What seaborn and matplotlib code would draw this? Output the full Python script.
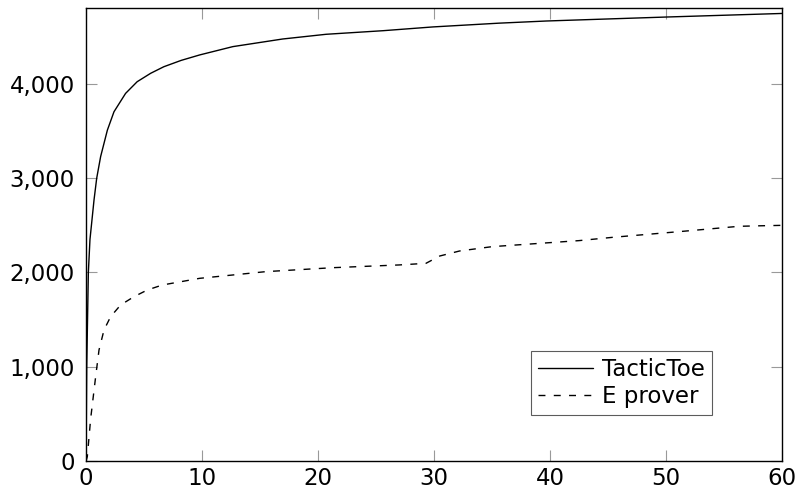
import matplotlib
matplotlib.use("Agg")
import matplotlib.pyplot as plt
import matplotlib.ticker as mticker
import seaborn as sns
import pandas as pd

# time (s) vs. number of problems solved
tt_time = [0, 0.03, 0.06, 0.2, 0.34, 0.69, 0.92, 1.26, 1.84, 2.41, 3.41, 4.41,
           5.57, 6.71, 8.2, 9.8, 12.65, 16.95, 20.7, 25.6, 29.9, 35.6, 39.7, 50.0, 60]
tt_solved = [0, 500, 1000, 2000, 2350, 2770, 3000, 3230, 3510, 3705, 3900, 4024,
             4113, 4183, 4250, 4308, 4396, 4477, 4527, 4565, 4605, 4645, 4668, 4710, 4748]

ep_time = [0, 0.11, 0.4, 0.83, 1.12, 1.55, 2.12, 2.98, 4.13, 5.28, 6.57, 9.8,
           15.5, 21.3, 27.0, 29.3, 30.5, 32.2, 35.0, 42.5, 45.4, 51.1, 56.3, 58, 60]
ep_solved = [0, 46, 450, 895, 1178, 1390, 1531, 1655, 1743, 1814, 1867, 1938,
             2009, 2051, 2080, 2097, 2175, 2228, 2274, 2338, 2373, 2433, 2490, 2495, 2500]

x_ticks = [0, 10, 20, 30, 40, 50, 60]
y_ticks = [0, 1000, 2000, 3000, 4000]

sns.set_style("white")
plt.rcParams["font.family"] = ["DejaVu Sans"]
plt.rcParams["text.color"] = "black"

df_tt = pd.DataFrame({"time": tt_time, "solved": tt_solved})
df_ep = pd.DataFrame({"time": ep_time, "solved": ep_solved})

fig = plt.figure(figsize=(7.98, 4.93), dpi=100)
ax = fig.add_axes([0.1078, 0.0649, 0.8722, 0.9189])

sns.lineplot(data=df_tt, x="time", y="solved", ax=ax, color="black",
             linewidth=1.0, label="TacticToe")
sns.lineplot(data=df_ep, x="time", y="solved", ax=ax, color="black",
             linewidth=1.0, linestyle=(0, (5, 6)), label="E prover")

ax.set_xlim(0, 60)
ax.set_ylim(0, 4806)
ax.set_xticks(x_ticks)
ax.set_yticks(y_ticks)
ax.yaxis.set_major_formatter(mticker.FuncFormatter(lambda v, p: f"{int(v):,}"))
ax.set_xlabel("")
ax.set_ylabel("")

for s in ax.spines.values():
    s.set_color("black")
    s.set_linewidth(1.0)

ax.tick_params(axis="both", which="major", direction="in", length=8,
               width=0.8, color="#999999", labelsize=16.5, labelcolor="black",
               top=True, right=True, bottom=True, left=True)
ax.tick_params(axis="x", pad=4)
ax.tick_params(axis="y", pad=8)

leg = ax.legend(loc="lower right", bbox_to_anchor=(0.899, 0.1015),
                fontsize=16.5, frameon=True, fancybox=False,
                handlelength=2.4, handletextpad=0.4, borderpad=0.3,
                labelspacing=0.2, borderaxespad=0)
leg.get_frame().set_edgecolor("#333333")
leg.get_frame().set_linewidth(0.8)
for t in leg.get_texts():
    t.set_color("black")

fig.savefig("out.png", dpi=100)
